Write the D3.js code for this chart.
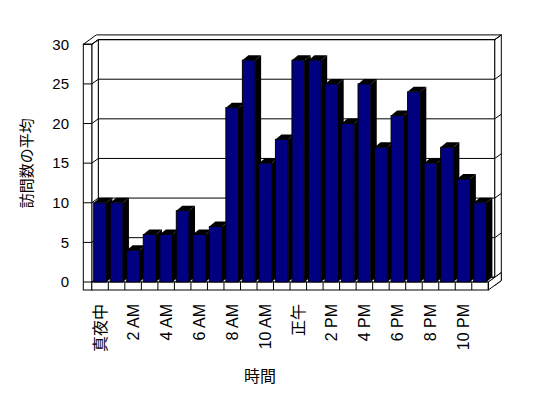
<!DOCTYPE html>
<html>
<head>
<meta charset="utf-8">
<script src="https://cdn.jsdelivr.net/npm/d3@7"></script>
<style>
  body { margin: 0; background: #fff; }
  text { font-family: "Liberation Sans", "Noto Sans CJK JP", sans-serif; fill: #000; }
</style>
</head>
<body>
<div id="chart"></div>
<script>
// hours of the day (only every other one is labelled, like the original)
var hours = ["真夜中", "1 AM", "2 AM", "3 AM", "4 AM", "5 AM", "6 AM", "7 AM", "8 AM", "9 AM", "10 AM", "11 AM",
             "正午", "1 PM", "2 PM", "3 PM", "4 PM", "5 PM", "6 PM", "7 PM", "8 PM", "9 PM", "10 PM", "11 PM"];
// average number of visits per hour
var visits = [10, 10, 4, 6, 6, 9, 6, 7, 22, 28, 15, 18, 28, 28, 25, 20, 25, 17, 21, 24, 15, 17, 13, 10];
var yTicks = [0, 5, 10, 15, 20, 25, 30];
var yTitle = "訪問数の平均";
var xTitle = "時間";

var w = 548, h = 398;

// front plane of the plot
var x0 = 91.8, x1 = 488.3;   // floor front edge
var wallX = 83.3;            // outer face of left wall
var floorBottom = 290;
var dx = 6.5, dy = -4.7;     // depth offset to the back wall
var bdx = 6, bdy = -5;       // depth of a bar

var xScale = d3.scaleBand()
    .domain(hours)
    .range([x0, x1])
    .paddingInner(0.23)
    .paddingOuter(0.115);

var yScale = d3.scaleLinear()
    .domain([0, 30])
    .range([282, 44.3]);

var svg = d3.select("#chart").append("svg")
    .attr("width", w)
    .attr("height", h);

function poly(points) {
  return svg.append("polygon")
      .attr("points", points.map(function (p) { return p.join(","); }).join(" "))
      .attr("fill", "#fff")
      .attr("stroke", "#000")
      .attr("stroke-width", 1);
}

var yTop = yScale(30), yBase = yScale(0);

// back wall (front face, top, right side)
svg.append("rect")
    .attr("x", x0 + dx).attr("y", yTop + dy)
    .attr("width", x1 - x0).attr("height", yBase - yTop)
    .attr("fill", "#fff").attr("stroke", "#000");
poly([[x1 + dx, yTop + dy], [x1 + 2 * dx, yTop + 2 * dy], [x1 + 2 * dx, yBase + 2 * dy + 8], [x1 + dx, yBase + dy + 8]]);

// left wall inner face
poly([[x0, yTop], [x0 + dx, yTop + dy], [x0 + dx, yBase + dy], [x0, yBase]]);

// top of the walls
poly([[wallX, yTop], [wallX + 2 * dx, yTop + 2 * dy], [x1 + 2 * dx, yTop + 2 * dy],
      [x1 + dx, yTop + dy], [x0 + dx, yTop + dy], [x0, yTop]]);

// gridlines on walls
yTicks.forEach(function (v) {
  var y = yScale(v);
  svg.append("line")
      .attr("x1", x0 + dx).attr("x2", x1 + dx)
      .attr("y1", y + dy).attr("y2", y + dy)
      .attr("stroke", "#000");
  svg.append("line")
      .attr("x1", x0).attr("y1", y)
      .attr("x2", x0 + dx).attr("y2", y + dy)
      .attr("stroke", "#000");
  svg.append("line")
      .attr("x1", x1 + dx).attr("y1", y + dy)
      .attr("x2", x1 + 2 * dx).attr("y2", y + 2 * dy)
      .attr("stroke", "#000");
});

// left wall front face
svg.append("rect")
    .attr("x", wallX).attr("y", yTop)
    .attr("width", x0 - wallX).attr("height", floorBottom - yTop)
    .attr("fill", "#fff").attr("stroke", "#000");
yTicks.forEach(function (v) {
  svg.append("line")
      .attr("x1", wallX).attr("x2", x0)
      .attr("y1", yScale(v)).attr("y2", yScale(v))
      .attr("stroke", "#000");
});

// floor: top, right side, front face
poly([[x0, yBase], [x1, yBase], [x1 + dx, yBase + dy], [x0 + dx, yBase + dy]]);
poly([[x1, yBase], [x1 + 2 * dx, yBase + 2 * dy], [x1 + 2 * dx, floorBottom + 2 * dy], [x1, floorBottom]]);
svg.append("rect")
    .attr("x", x0).attr("y", yBase)
    .attr("width", x1 - x0).attr("height", floorBottom - yBase)
    .attr("fill", "#fff").attr("stroke", "#000");
svg.selectAll(".cell")
    .data(hours)
    .enter().append("line")
    .attr("class", "cell")
    .attr("x1", function (d) { return xScale(d) - xScale.step() * xScale.paddingInner() / 2 + xScale.step(); })
    .attr("x2", function (d) { return xScale(d) - xScale.step() * xScale.paddingInner() / 2 + xScale.step(); })
    .attr("y1", yBase).attr("y2", floorBottom)
    .attr("stroke", "#000");

// bars: side, top, front
var bars = svg.selectAll(".bar")
    .data(visits)
    .enter().append("g")
    .attr("class", "bar");

bars.each(function (d, i) {
  var g = d3.select(this);
  var xl = xScale(hours[i]), xr = xl + xScale.bandwidth();
  var yt = yScale(d), yb = yScale(0);
  g.append("polygon")
      .attr("points", [[xr, yt], [xr + bdx, yt + bdy], [xr + bdx, yb + bdy], [xr, yb]].join(" "))
      .attr("fill", "#000");
  g.append("polygon")
      .attr("points", [[xl, yt], [xl + bdx, yt + bdy], [xr + bdx, yt + bdy], [xr, yt]].join(" "))
      .attr("fill", "#000");
  g.append("rect")
      .attr("x", xl).attr("y", yt)
      .attr("width", xScale.bandwidth()).attr("height", yb - yt)
      .attr("fill", "#000080")
      .attr("stroke", "#000")
      .attr("stroke-width", 1);
});

// y axis labels
var yAxis = d3.axisLeft(yScale).tickValues(yTicks).tickSize(0).tickPadding(0);
var yg = svg.append("g")
    .attr("transform", "translate(69,0)")
    .call(yAxis);
yg.select(".domain").remove();
yg.selectAll("text")
    .style("font-size", "15px")
    .style("font-family", "'Liberation Sans', sans-serif");

// x axis labels (every other hour), rotated
var xAxis = d3.axisBottom(xScale)
    .tickValues(hours.filter(function (d, i) { return i % 2 === 0; }))
    .tickSize(0);
var xg = svg.append("g")
    .attr("transform", "translate(0," + floorBottom + ")")
    .call(xAxis);
xg.select(".domain").remove();
xg.selectAll("text")
    .attr("transform", "rotate(-90)")
    .attr("x", -14)
    .attr("y", 0)
    .attr("dy", "0.35em")
    .attr("text-anchor", "end")
    .style("font-size", "16px")
    .style("font-family", "'Liberation Sans', 'Noto Sans CJK JP', sans-serif");

// axis titles
svg.append("text")
    .attr("transform", "translate(27," + ((yTop + yBase) / 2) + ") rotate(-90)")
    .attr("text-anchor", "middle")
    .attr("dy", "0.35em")
    .style("font-size", "15px")
    .style("font-family", "'Noto Sans CJK JP', sans-serif")
    .text(yTitle);

svg.append("text")
    .attr("x", 260)
    .attr("y", 376)
    .attr("text-anchor", "middle")
    .attr("dy", "0.35em")
    .style("font-size", "16px")
    .style("font-family", "'Noto Sans CJK JP', sans-serif")
    .text(xTitle);
</script>
</body>
</html>
